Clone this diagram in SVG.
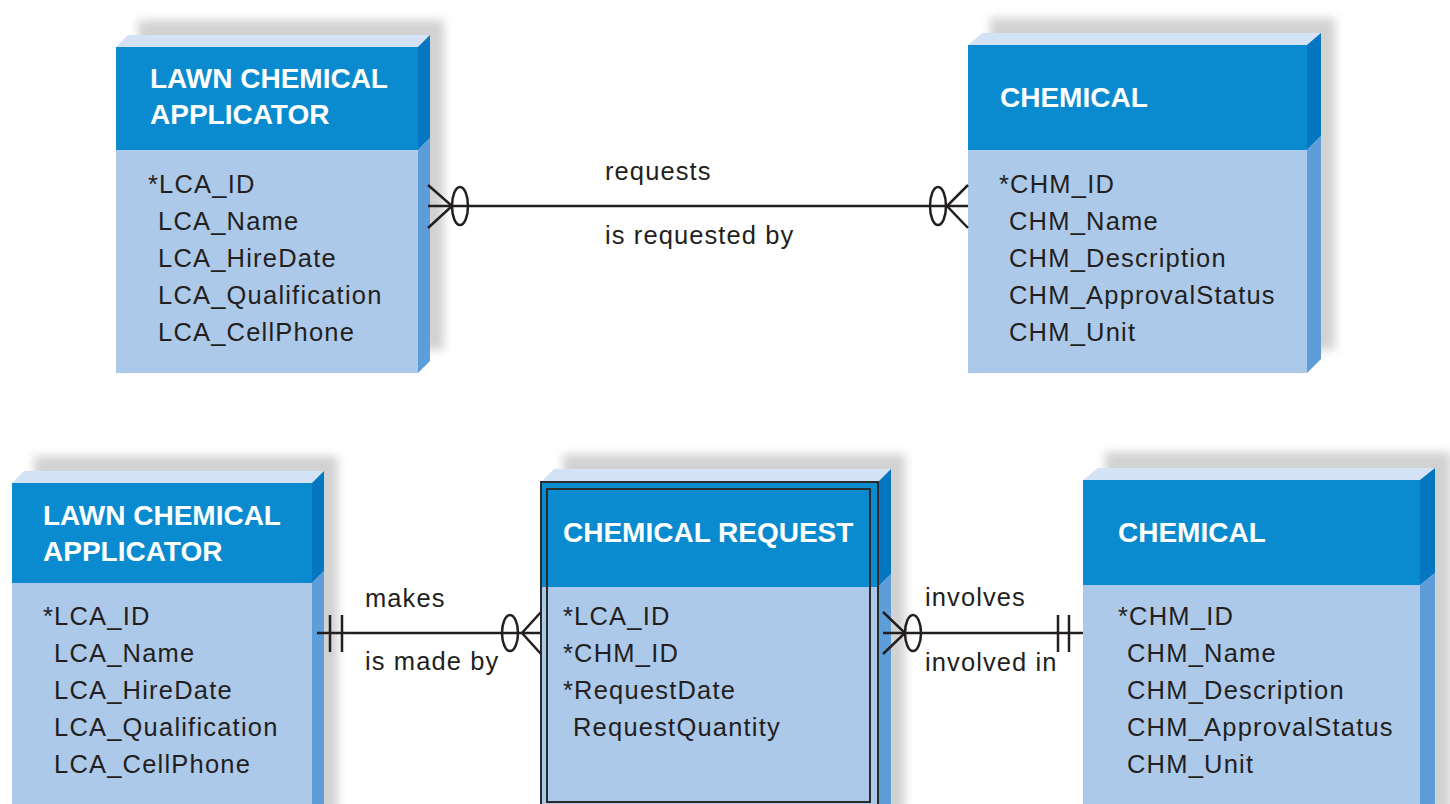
<svg xmlns="http://www.w3.org/2000/svg" width="1450" height="804" viewBox="0 0 1450 804">
<defs>
<filter id="sh" x="-20%" y="-20%" width="140%" height="140%"><feGaussianBlur stdDeviation="5"/></filter>
<style>
.shadow{fill:#d2d2d2;filter:url(#sh)}
.bevel{fill:#d3e2f4}
.hdr{fill:#0b8bcf}
.hdrside{fill:#0577c2}
.body{fill:#adc9ea}
.bodyside{fill:#5e9ed8}
.title{font-family:"Liberation Sans",Arial,sans-serif;font-weight:bold;font-size:28px;fill:#ffffff}
.attr{font-family:"Liberation Sans",Arial,sans-serif;font-size:25.5px;letter-spacing:1.2px;fill:#231f20}
.lbl{font-family:"Liberation Sans",Arial,sans-serif;font-size:25.5px;letter-spacing:1.1px;fill:#231f20}
.ln{stroke:#231f20;stroke-width:2.5;fill:none}
.border{stroke:#2b2b2b;stroke-width:2;fill:none}
</style>
</defs>
<rect width="1450" height="804" fill="#ffffff"/>

<g id="lca-top">
<rect class="shadow" x="138" y="20" width="306" height="330"/>
<polygon class="bevel" points="116,47 128,35 430,35 418,47"/>
<rect class="hdr" x="116" y="47" width="302" height="103"/>
<rect class="body" x="116" y="150" width="302" height="223"/>
<polygon class="hdrside" points="418,47 430,35 430,138 418,150"/>
<polygon class="bodyside" points="418,150 430,138 430,361 418,373"/>
<text class="title" x="150" y="88">LAWN CHEMICAL</text>
<text class="title" x="150" y="124">APPLICATOR</text>
<text class="attr" x="148" y="193">*LCA_ID</text>
<text class="attr" x="158" y="230">LCA_Name</text>
<text class="attr" x="158" y="267">LCA_HireDate</text>
<text class="attr" x="158" y="304">LCA_Qualification</text>
<text class="attr" x="158" y="341">LCA_CellPhone</text>
</g>

<g id="chemical-top">
<rect class="shadow" x="990" y="18" width="345" height="332"/>
<polygon class="bevel" points="968,45 982,33 1321,33 1307,45"/>
<rect class="hdr" x="968" y="45" width="339" height="105"/>
<rect class="body" x="968" y="150" width="339" height="223"/>
<polygon class="hdrside" points="1307,45 1321,33 1321,136 1307,150"/>
<polygon class="bodyside" points="1307,150 1321,136 1321,359 1307,373"/>
<text class="title" x="1000" y="107">CHEMICAL</text>
<text class="attr" x="999" y="193">*CHM_ID</text>
<text class="attr" x="1009" y="230">CHM_Name</text>
<text class="attr" x="1009" y="267">CHM_Description</text>
<text class="attr" x="1009" y="304">CHM_ApprovalStatus</text>
<text class="attr" x="1009" y="341">CHM_Unit</text>
</g>

<g id="lca-bottom">
<rect class="shadow" x="34" y="456" width="304" height="360"/>
<polygon class="bevel" points="12,483 24,471 324,471 312,483"/>
<rect class="hdr" x="12" y="483" width="300" height="100"/>
<rect class="body" x="12" y="583" width="300" height="230"/>
<polygon class="hdrside" points="312,483 324,471 324,571 312,583"/>
<polygon class="bodyside" points="312,583 324,571 324,813 312,813"/>
<text class="title" x="43" y="525">LAWN CHEMICAL</text>
<text class="title" x="43" y="561">APPLICATOR</text>
<text class="attr" x="43" y="625">*LCA_ID</text>
<text class="attr" x="54" y="662">LCA_Name</text>
<text class="attr" x="54" y="699">LCA_HireDate</text>
<text class="attr" x="54" y="736">LCA_Qualification</text>
<text class="attr" x="54" y="773">LCA_CellPhone</text>
</g>

<g id="chemical-request">
<rect class="shadow" x="563" y="454" width="342" height="360"/>
<polygon class="bevel" points="541,482 554,469 891,469 878,482"/>
<rect class="hdr" x="541" y="482" width="337" height="105"/>
<rect class="body" x="541" y="587" width="337" height="226"/>
<polygon class="hdrside" points="878,482 891,469 891,574 878,587"/>
<polygon class="bodyside" points="878,587 891,574 891,813 878,813"/>
<rect class="border" x="541" y="482" width="337" height="328"/>
<rect class="border" x="547" y="489" width="323" height="313"/>
<text class="title" x="563" y="542">CHEMICAL REQUEST</text>
<text class="attr" x="563" y="625">*LCA_ID</text>
<text class="attr" x="563" y="662">*CHM_ID</text>
<text class="attr" x="563" y="699">*RequestDate</text>
<text class="attr" x="573" y="736">RequestQuantity</text>
</g>

<g id="chemical-bottom">
<rect class="shadow" x="1105" y="452" width="346" height="360"/>
<polygon class="bevel" points="1083,480 1098,468 1435,468 1420,480"/>
<rect class="hdr" x="1083" y="480" width="337" height="105"/>
<rect class="body" x="1083" y="585" width="337" height="228"/>
<polygon class="hdrside" points="1420,480 1435,468 1435,573 1420,585"/>
<polygon class="bodyside" points="1420,585 1435,573 1435,813 1420,813"/>
<text class="title" x="1118" y="542">CHEMICAL</text>
<text class="attr" x="1118" y="625">*CHM_ID</text>
<text class="attr" x="1127" y="662">CHM_Name</text>
<text class="attr" x="1127" y="699">CHM_Description</text>
<text class="attr" x="1127" y="736">CHM_ApprovalStatus</text>
<text class="attr" x="1127" y="773">CHM_Unit</text>
</g>

<g id="connectors">
<line class="ln" x1="428" y1="206" x2="968" y2="206"/>
<polyline class="ln" points="428,185 452,206 428,228"/>
<ellipse class="ln" cx="460" cy="206" rx="8" ry="19"/>
<ellipse class="ln" cx="938" cy="206" rx="8" ry="19"/>
<polyline class="ln" points="968,185 947,206 968,228"/>
<text class="lbl" x="605" y="180">requests</text>
<text class="lbl" x="605" y="244">is requested by</text>

<line class="ln" x1="317" y1="633" x2="541" y2="633"/>
<line class="ln" x1="330" y1="615" x2="330" y2="652"/>
<line class="ln" x1="342" y1="615" x2="342" y2="652"/>
<ellipse class="ln" cx="510" cy="633" rx="8" ry="18"/>
<polyline class="ln" points="541,612 522,633 541,654"/>
<text class="lbl" x="365" y="607">makes</text>
<text class="lbl" x="365" y="670">is made by</text>

<line class="ln" x1="883" y1="633" x2="1083" y2="633"/>
<polyline class="ln" points="883,612 905,633 883,654"/>
<ellipse class="ln" cx="913" cy="633" rx="8" ry="18"/>
<line class="ln" x1="1058" y1="615" x2="1058" y2="652"/>
<line class="ln" x1="1069" y1="615" x2="1069" y2="652"/>
<text class="lbl" x="925" y="606">involves</text>
<text class="lbl" x="925" y="671">involved in</text>
</g>
</svg>
